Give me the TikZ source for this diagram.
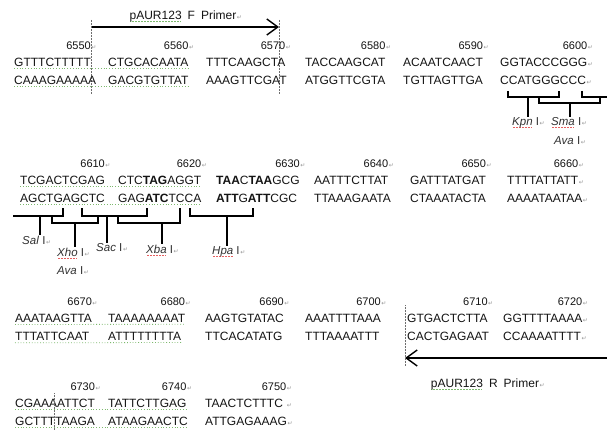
\documentclass[tikz,border=0pt]{standalone}
\usepackage{fontspec}
\setmainfont{Liberation Sans}
\newfontfamily\retfamily{DejaVu Sans}
\usetikzlibrary{arrows.meta,positioning}
\definecolor{seqblack}{RGB}{20,20,20}
\definecolor{labelgray}{RGB}{50,50,50}
\definecolor{retgray}{RGB}{150,150,150}
\definecolor{guidegray}{RGB}{110,110,110}
\definecolor{spellgreen}{RGB}{125,185,110}
\definecolor{spellred}{RGB}{230,95,95}
% paragraph mark and spell-check underline of the scanned page
\newcommand\ret{\rlap{\smash{\hspace{0.6pt}\retfamily\fontsize{6}{6}\selectfont\textcolor{retgray}{↵}}}}
\newcommand\spell[2]{\leavevmode\setbox0=\hbox{#2}\rlap{\raisebox{-2.2pt}{\textcolor{#1}{\leaders\hbox to 1.5pt{\hss\rule{0.7pt}{0.7pt}\hss}\hskip\wd0}}}\box0}
\tikzset{
  seq/.style={font=\fontsize{12}{14}\selectfont, text=seqblack, inner sep=0pt, anchor=west},
  num/.style={font=\fontsize{11}{13}\selectfont, text=seqblack, inner sep=0pt},
  site/.style={font=\fontsize{11.5}{13}\selectfont, text=labelgray, inner sep=0pt, anchor=base west},
  primerlbl/.style={font=\fontsize{12}{14}\selectfont, text=seqblack, inner sep=0pt, anchor=base},
  primer/.style={line width=1.8pt, -{Straight Barb[length=11pt,width=16pt,line width=1.4pt]}},
  bracket/.style={line width=1.3pt, draw=black},
  guide/.style={draw=guidegray, densely dotted, line width=0.5pt},
  spellchk/.style={draw=spellgreen, dotted, line width=0.8pt}
}
\begin{document}
\begin{tikzpicture}[x=1pt, y=-1pt]
  \path[use as bounding box, fill=white] (0,0) rectangle (607,433);

  % forward primer
  \coordinate (fstart) at (91,27);
  \coordinate (fend) at (279,27);
  \draw[primer] (fstart) -- (fend);
  \node[primerlbl] (flbl) at (183,20) {\spell{spellgreen}{pAUR123}\hspace{6pt}F\hspace{6pt}Primer\ret};
  \draw[guide] (91,20) -- (91,95);
  \draw[guide] (279,20) -- (279,95);

  % 6541-6600
  \node[seq] (t11) at (14,62) {GTTTCTTTTT};
  \node[seq] (t12) at (108,62) {CTGCACAATA};
  \node[seq] (t13) at (206,62) {TTTCAAGCTA};
  \node[seq] (t14) at (305,62) {TACCAAGCAT};
  \node[seq] (t15) at (403,62) {ACAATCAACT};
  \node[seq] (t16) at (500,62) {GGTACCCGGG\ret};
  \node[seq, below=9.5pt of t11.south west, anchor=north west] (b11) {CAAAGAAAAA};
  \node[seq, below=9.5pt of t12.south west, anchor=north west] (b12) {GACGTGTTAT};
  \node[seq, below=9.5pt of t13.south west, anchor=north west] (b13) {AAAGTTCGAT};
  \node[seq, below=9.5pt of t14.south west, anchor=north west] (b14) {ATGGTTCGTA};
  \node[seq, below=9.5pt of t15.south west, anchor=north west] (b15) {TGTTAGTTGA};
  \node[seq, below=9.5pt of t16.south west, anchor=north west] (b16) {CCATGGGCCC\ret};
  \node[num, above=8pt of t11.north east, anchor=south east] (n6550) {6550\ret};
  \node[num, above=8pt of t12.north east, anchor=south east] (n6560) {6560\ret};
  \node[num, above=8pt of t13.north east, anchor=south east] (n6570) {6570\ret};
  \node[num, above=8pt of t14.north east, anchor=south east] (n6580) {6580\ret};
  \node[num, above=8pt of t15.north east, anchor=south east] (n6590) {6590\ret};
  \node[num, above=8pt of t16.north east, anchor=south east] (n6600) {6600\ret};
  \draw[spellchk] ([yshift=-2pt]t11.south west) -- ([yshift=-2pt]t12.south east);
  \draw[spellchk] ([yshift=-2pt]b11.south west) -- ([yshift=-2pt]b12.south east);

  % Kpn I, Sma I / Ava I, start of Sal I
  \node[site] (kpn) at (512,125) {\textit{\spell{spellred}{Kpn}} I\ret};
  \node[site] (sma) at (551,125) {\textit{\spell{spellred}{Sma}} I\ret};
  \node[site] (ava1) at (554,144) {\textit{Ava} I\ret};
  \draw[bracket] (508,91) -- (508,97) -- (559,97) -- (559,91);
  \draw[bracket] (539,97) -- (539,103) -- (600,103) -- (600,97);
  \draw[bracket] (582,91) -- (582,97) -- (607,97);
  \coordinate (kpnstem) at (528,97);
  \coordinate (smastem) at (570,103);
  \draw[bracket] (kpnstem) -- (kpnstem |- kpn.north);
  \draw[bracket] (smastem) -- (smastem |- sma.north);

  % 6601-6660
  \node[seq] (t21) at (20,180) {TCGACTCGAG};
  \node[seq] (t22) at (118,180) {CTC\textbf{TAG}AGGT};
  \node[seq] (t23) at (216,180) {\textbf{TAA}C\textbf{TAA}GCG};
  \node[seq] (t24) at (314,180) {AATTTCTTAT};
  \node[seq] (t25) at (410,180) {GATTTATGAT};
  \node[seq] (t26) at (507,180) {TTTTATTATT\ret};
  \node[seq, below=9.5pt of t21.south west, anchor=north west] (b21) {AGCTGAGCTC};
  \node[seq, below=9.5pt of t22.south west, anchor=north west] (b22) {GAG\textbf{ATC}TCCA};
  \node[seq, below=9.5pt of t23.south west, anchor=north west] (b23) {\textbf{ATT}G\textbf{ATT}CGC};
  \node[seq, below=9.5pt of t24.south west, anchor=north west] (b24) {TTAAAGAATA};
  \node[seq, below=9.5pt of t25.south west, anchor=north west] (b25) {CTAAATACTA};
  \node[seq, below=9.5pt of t26.south west, anchor=north west] (b26) {AAAATAATAA\ret};
  \node[num, above=8pt of t21.north east, anchor=south east] (n6610) {6610\ret};
  \node[num, above=8pt of t22.north east, anchor=south east] (n6620) {6620\ret};
  \node[num, above=8pt of t23.north east, anchor=south east] (n6630) {6630\ret};
  \node[num, above=8pt of t24.north east, anchor=south east] (n6640) {6640\ret};
  \node[num, above=8pt of t25.north east, anchor=south east] (n6650) {6650\ret};
  \node[num, above=8pt of t26.north east, anchor=south east] (n6660) {6660\ret};
  \draw[spellchk] ([yshift=-2pt]t21.south west) -- ([yshift=-2pt]t22.south east);
  \draw[spellchk] ([yshift=-2pt]b21.south west) -- ([yshift=-2pt]b22.south east);

  % Sal I, Xho I / Ava I, Sac I, Xba I, Hpa I
  \node[site] (sal) at (22,244) {\textit{Sal} I\ret};
  \node[site] (xho) at (57,256) {\textit{\spell{spellred}{Xho}} I\ret};
  \node[site] (sac) at (96,251) {\textit{Sac} I\ret};
  \node[site] (xba) at (146,253) {\textit{\spell{spellred}{Xba}} I\ret};
  \node[site] (hpa) at (212,254) {\textit{\spell{spellred}{Hpa}} I\ret};
  \node[site] (ava2) at (57,274) {\textit{Ava} I\ret};
  \draw[bracket] (13,216) -- (63,216) -- (63,208);
  \draw[bracket] (52,216) -- (52,223) -- (98,223) -- (98,216);
  \draw[bracket] (82,208) -- (82,216) -- (147,216) -- (147,208);
  \draw[bracket] (118,216) -- (118,223) -- (180,223) -- (180,208);
  \draw[bracket] (190,208) -- (190,216) -- (253,216) -- (253,208);
  \coordinate (salstem) at (40,216);
  \coordinate (xhostem) at (75,223);
  \coordinate (sacstem) at (107,216);
  \coordinate (xbastem) at (162,223);
  \coordinate (hpastem) at (227,216);
  \draw[bracket] (salstem) -- (salstem |- sal.north);
  \draw[bracket] (xhostem) -- (xhostem |- xho.north);
  \draw[bracket] (sacstem) -- (sacstem |- sac.north);
  \draw[bracket] (xbastem) -- (xbastem |- xba.north);
  \draw[bracket] (hpastem) -- (hpastem |- hpa.north);

  % 6661-6720
  \node[seq] (t31) at (15,318) {AAATAAGTTA};
  \node[seq] (t32) at (108,318) {TAAAAAAAAT};
  \node[seq] (t33) at (205,318) {AAGTGTATAC};
  \node[seq] (t34) at (305,318) {AAATTTTAAA};
  \node[seq] (t35) at (407,318) {GTGACTCTTA};
  \node[seq] (t36) at (503,318) {GGTTTTAAAA\ret};
  \node[seq, below=9.5pt of t31.south west, anchor=north west] (b31) {TTTATTCAAT};
  \node[seq, below=9.5pt of t32.south west, anchor=north west] (b32) {ATTTTTTTTA};
  \node[seq, below=9.5pt of t33.south west, anchor=north west] (b33) {TTCACATATG};
  \node[seq, below=9.5pt of t34.south west, anchor=north west] (b34) {TTTAAAATTT};
  \node[seq, below=9.5pt of t35.south west, anchor=north west] (b35) {CACTGAGAAT};
  \node[seq, below=9.5pt of t36.south west, anchor=north west] (b36) {CCAAAATTTT\ret};
  \node[num, above=8pt of t31.north east, anchor=south east] (n6670) {6670\ret};
  \node[num, above=8pt of t32.north east, anchor=south east] (n6680) {6680\ret};
  \node[num, above=8pt of t33.north east, anchor=south east] (n6690) {6690\ret};
  \node[num, above=8pt of t34.north east, anchor=south east] (n6700) {6700\ret};
  \node[num, above=8pt of t35.north east, anchor=south east] (n6710) {6710\ret};
  \node[num, above=8pt of t36.north east, anchor=south east] (n6720) {6720\ret};
  \draw[spellchk] ([yshift=-2pt]t31.south west) -- ([yshift=-2pt]t32.south east);
  \draw[spellchk] ([yshift=-2pt]b31.south west) -- ([yshift=-2pt]b32.south east);

  % reverse primer
  \coordinate (rstart) at (607,358);
  \coordinate (rend) at (405,358);
  \draw[primer] (rstart) -- (rend);
  \node[primerlbl] (rlbl) at (485,387) {\spell{spellgreen}{pAUR123}\hspace{6pt}R\hspace{6pt}Primer\ret};
  \draw[guide] (405,305) -- (405,366);

  % 6721-6750
  \node[seq] (t41) at (15,403) {CGAAAATTCT};
  \node[seq] (t42) at (108,403) {TATTCTTGAG};
  \node[seq] (t43) at (205,403) {TAACTCTTTC\ \ret};
  \node[seq, below=9.5pt of t41.south west, anchor=north west] (b41) {GCTTTTAAGA};
  \node[seq, below=9.5pt of t42.south west, anchor=north west] (b42) {ATAAGAACTC};
  \node[seq, below=9.5pt of t43.south west, anchor=north west] (b43) {ATTGAGAAAG\ret};
  \node[num, above=8pt of t41.north east, anchor=south east] (n6730) {6730\ret};
  \node[num, above=8pt of t42.north east, anchor=south east] (n6740) {6740\ret};
  \node[num, above=8pt of t43.north east, anchor=south east] (n6750) {6750\ret};
  \draw[spellchk] ([yshift=-2pt]t41.south west) -- ([yshift=-2pt]t42.south east);
  \draw[spellchk] ([yshift=-2pt]b41.south west) -- ([yshift=-2pt]b42.south east);
  \draw[guide] (54,393) -- (54,430);
\end{tikzpicture}
\end{document}
